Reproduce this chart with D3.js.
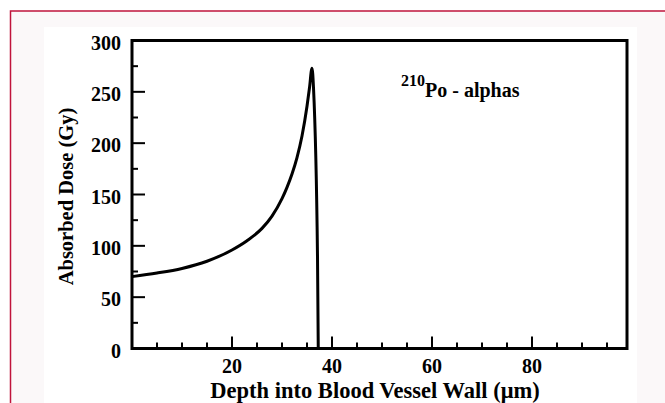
<!DOCTYPE html>
<html>
<head>
<meta charset="utf-8">
<script src="https://cdn.jsdelivr.net/npm/d3@7"></script>
<style>
  body { margin: 0; background: #fff; }
  svg { display: block; }
  text { font-family: "Liberation Serif", "Times New Roman", serif; font-weight: bold; fill: #000; }
</style>
</head>
<body>
<div id="plot"></div>
<script>
// Chart data
const depth = [0, 5, 10, 15, 20, 23, 26, 28, 30, 31, 32, 33, 34, 35, 35.5, 36, 36.3, 37.1, 37.25];
const dose  = [70, 73.5, 78, 85, 96, 105, 117, 129, 146, 157, 170, 186, 207, 236, 254, 273, 254, 90, 0];
const xTickLabels = [20, 40, 60, 80];
const yTickLabels = [0, 50, 100, 150, 200, 250, 300];
const xTitle = "Depth into Blood Vessel Wall (\u03bcm)";
const yTitle = "Absorbed Dose (Gy)";

const width = 665, height = 403;

const svg = d3.select("#plot")
    .append("svg")
    .attr("width", width)
    .attr("height", height);

// outer page frame (cut off at right/bottom)
svg.append("rect")
    .attr("x", 10.5).attr("y", 11)
    .attr("width", 700).attr("height", 420)
    .attr("fill", "#fbf8f9")
    .attr("stroke", "#c0143c")
    .attr("stroke-width", 1.5);

svg.append("rect")
    .attr("x", 44).attr("y", 27)
    .attr("width", 593).attr("height", 400)
    .attr("fill", "#fff");

const x = d3.scaleLinear().domain([0, 99]).range([132, 627]);
const y = d3.scaleLinear().domain([0, 300]).range([348.5, 40.5]);

// tick marks, pointing inward
const xMinor = d3.range(5, 99, 5);
const yMinor = d3.range(25, 300, 25);

svg.append("g")
    .selectAll("line")
    .data(xMinor)
    .join("line")
    .attr("x1", d => x(d)).attr("x2", d => x(d))
    .attr("y1", y(0))
    .attr("y2", d => y(0) - (d % 20 === 0 ? 12 : 6))
    .attr("stroke", "#000")
    .attr("stroke-width", 2);

svg.append("g")
    .selectAll("line")
    .data(yMinor)
    .join("line")
    .attr("y1", d => y(d)).attr("y2", d => y(d))
    .attr("x1", x(0))
    .attr("x2", d => x(0) + (d % 50 === 0 ? 13 : 6))
    .attr("stroke", "#000")
    .attr("stroke-width", 2);

// plot frame
svg.append("rect")
    .attr("x", x(0)).attr("y", y(300))
    .attr("width", x(99) - x(0))
    .attr("height", y(0) - y(300))
    .attr("fill", "none")
    .attr("stroke", "#000")
    .attr("stroke-width", 3);

// tick labels
svg.append("g")
    .selectAll("text")
    .data(xTickLabels)
    .join("text")
    .attr("x", d => x(d))
    .attr("y", 372.5)
    .attr("text-anchor", "middle")
    .style("font-size", "20px")
    .text(d => d);

svg.append("g")
    .selectAll("text")
    .data(yTickLabels)
    .join("text")
    .attr("x", 121)
    .attr("y", d => y(d) + 9)
    .attr("text-anchor", "end")
    .style("font-size", "20px")
    .text(d => d);

// axis titles
svg.append("text")
    .attr("x", 375)
    .attr("y", 398)
    .attr("text-anchor", "middle")
    .style("font-size", "22.5px")
    .text(xTitle);

svg.append("text")
    .attr("transform", "translate(73,196.5) rotate(-90)")
    .attr("text-anchor", "middle")
    .style("font-size", "20.5px")
    .text(yTitle);

// annotation
const note = svg.append("text")
    .attr("x", 401)
    .attr("y", 97);
note.append("tspan")
    .attr("dy", -11)
    .style("font-size", "16px")
    .text("210");
note.append("tspan")
    .attr("dy", 11)
    .style("font-size", "20px")
    .text("Po - alphas");

// dose curve
const line = d3.line()
    .x((d, i) => x(d))
    .y((d, i) => y(dose[i]))
    .curve(d3.curveMonotoneX);

svg.append("path")
    .datum(depth)
    .attr("d", line)
    .attr("fill", "none")
    .attr("stroke", "#000")
    .attr("stroke-width", 3)
    .attr("stroke-linejoin", "round");
</script>
</body>
</html>
